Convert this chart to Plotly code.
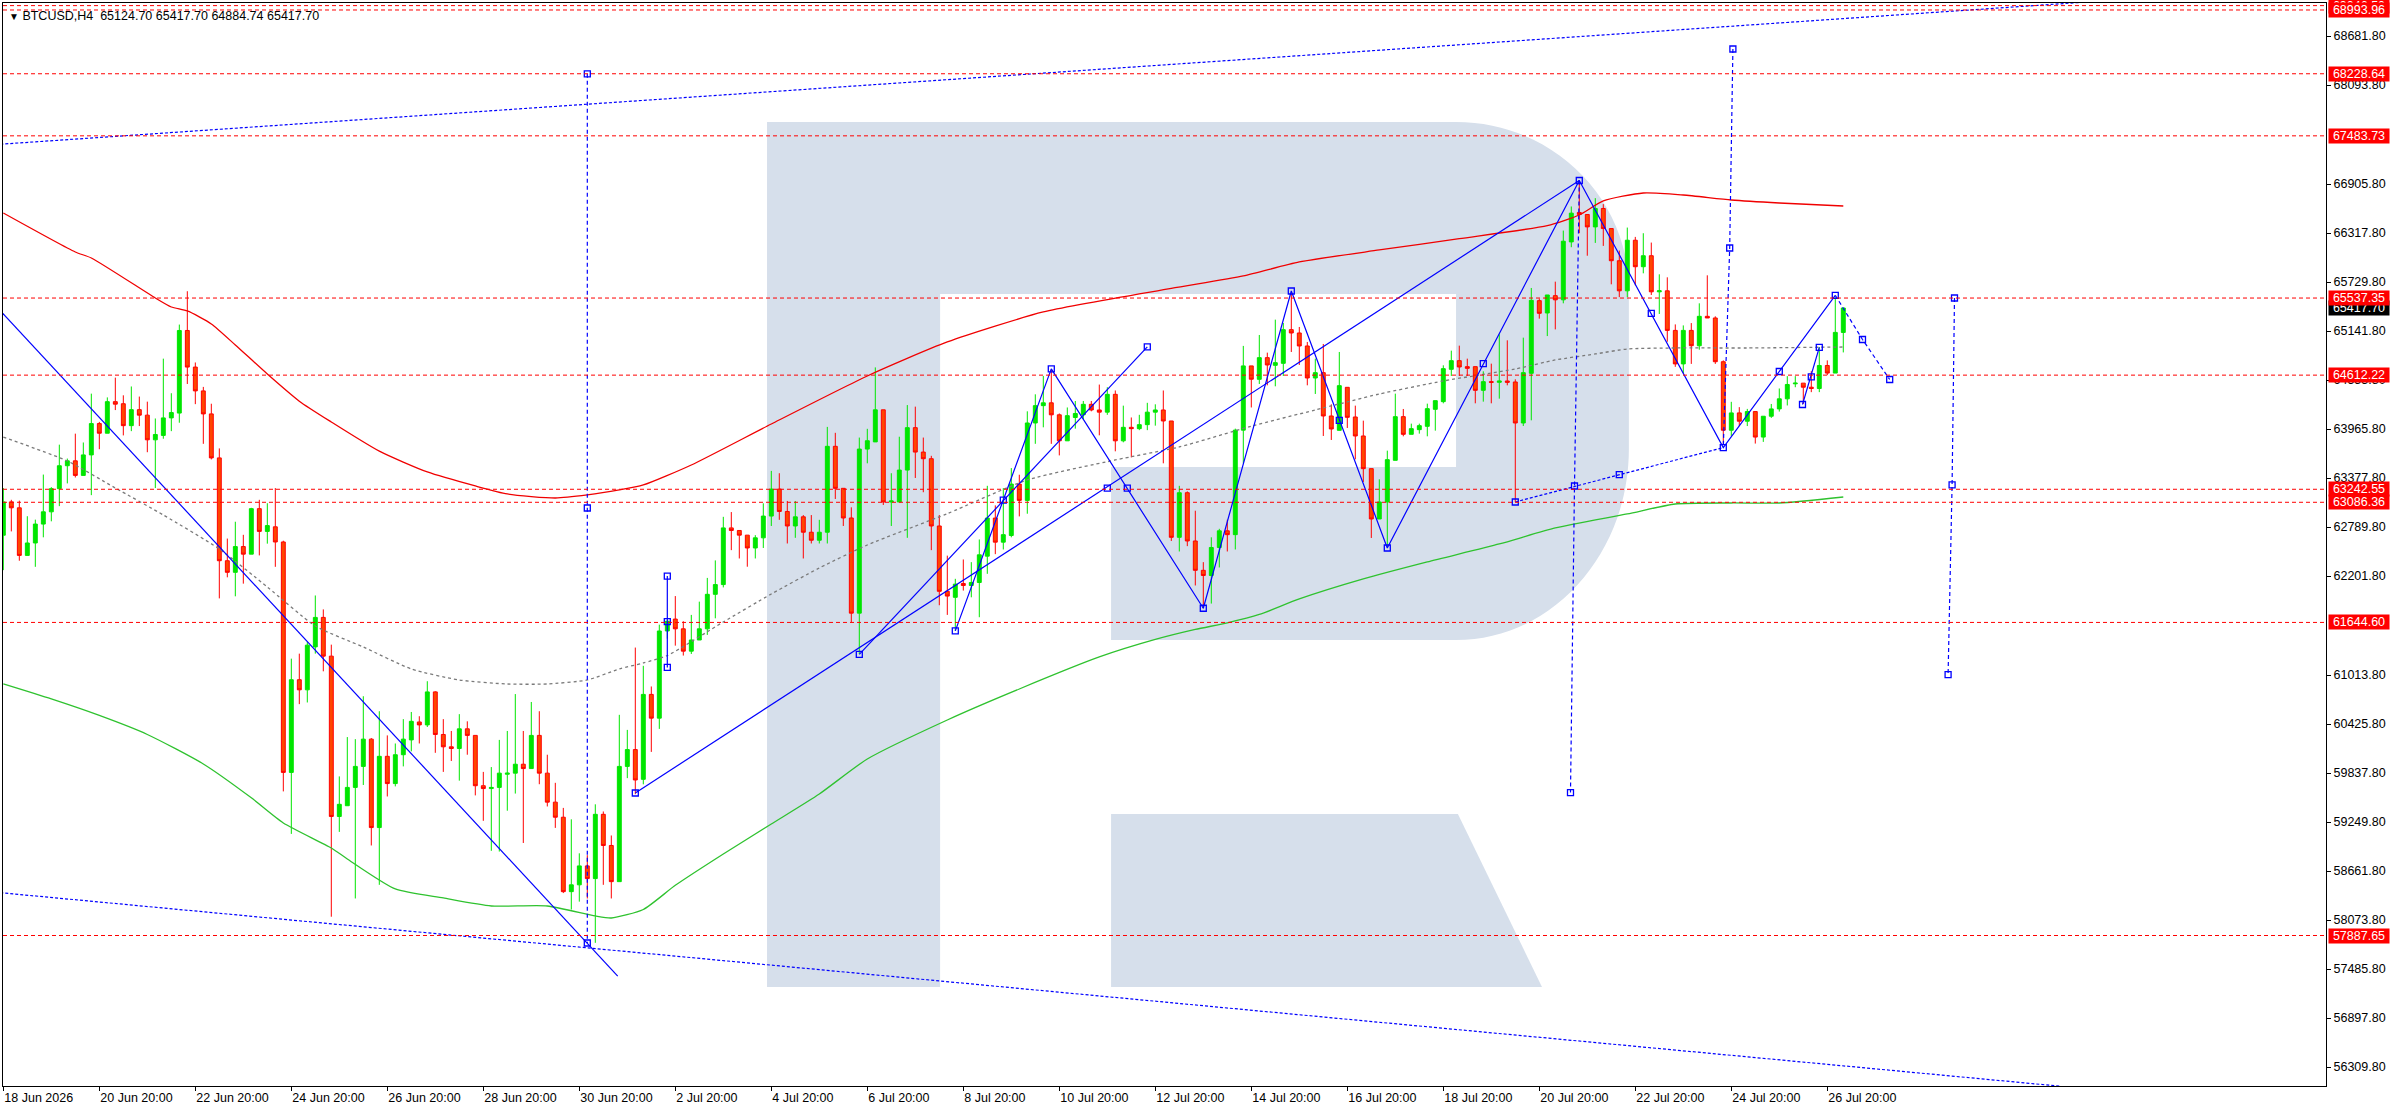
"""BTCUSD H4 chart in MetaTrader style, rebuilt with Plotly"""

import plotly.graph_objects as go

FONT = "Liberation Sans"
BULL = "#00e600"
BEAR_FILL = "#ff4500"
BEAR_LINE = "#ff0000"
OBJ_BLUE = "#0000ff"
LEVEL_RED = "#ff0000"
LOGO_COLOR = "#d6dfeb"

# x axis: one bar = 4 hours, label every 12 bars
X_TICK_BARS = list(range(0, 229, 12))
X_TICK_TEXT = [
    "18 Jun 2026", "20 Jun 20:00", "22 Jun 20:00", "24 Jun 20:00", "26 Jun 20:00",
    "28 Jun 20:00", "30 Jun 20:00", "2 Jul 20:00", "4 Jul 20:00", "6 Jul 20:00",
    "8 Jul 20:00", "10 Jul 20:00", "12 Jul 20:00", "14 Jul 20:00", "16 Jul 20:00",
    "18 Jul 20:00", "20 Jul 20:00", "22 Jul 20:00", "24 Jul 20:00", "26 Jul 20:00",
]

# price scale ticks shown by the terminal
Y_TICKS = [
    56309.80, 56897.80, 57485.80, 58073.80, 58661.80, 59249.80, 59837.80, 60425.80,
    61013.80, 62201.80, 62789.80, 63377.80, 63965.80, 64553.80, 65141.80, 65729.80,
    66317.80, 66905.80, 68093.80, 68681.80,
]

# H4 candles
OPEN = [
    62691, 63091, 63020, 62449, 62598, 62825, 62972, 63250, 63525, 63584,
    63409, 63655, 64031, 63915, 64294, 64269, 64006, 64198, 64132, 63836,
    63889, 64099, 64157, 65148, 64709, 64423, 64147, 63619, 62385, 62246,
    62555, 62464, 63010, 62737, 62792, 62610, 59845, 60957, 60836, 61351,
    61705, 61240, 59316, 59445, 59665, 59917, 60244, 59183, 60038, 59711,
    60057, 60235, 60450, 60415, 60811, 60300, 60152, 60132, 60368, 60289,
    59685, 59651, 59665, 59823, 59836, 59943, 59891, 60289, 59836, 59488,
    59307, 58414, 58496, 58723, 58571, 59342, 58968, 58534, 59917, 60119,
    59762, 60781, 60496, 61542, 61685, 61568, 61300, 61434, 61568, 61982,
    62099, 62779, 62748, 62692, 62538, 62660, 62921, 63245, 62976, 62802,
    62912, 62727, 62631, 62727, 63758, 63254, 62898, 61756, 63725, 63811,
    64196, 63090, 63090, 63473, 63982, 63689, 63609, 62802, 62018, 61946,
    62112, 62088, 62124, 62440, 62897, 62608, 62688, 63305, 63109, 64038,
    64246, 64280, 64136, 63824, 64104, 64136, 64262, 64194, 64168, 64382,
    63824, 63986, 63970, 64018, 64168, 64194, 64062, 62666, 63201, 62622,
    62270, 62208, 62544, 62744, 62698, 63952, 64723, 64562, 64822, 64730,
    64754, 65158, 65118, 64962, 64578, 64642, 64122, 63950, 64466, 64110,
    63882, 63490, 62886, 63090, 63590, 64114, 63902, 63958, 63998, 64202,
    64294, 64682, 64786, 64714, 64714, 64430, 64534, 64526, 64542, 64530,
    64038, 64634, 65506, 65358, 65566, 65516, 66211, 66564, 66540, 66391,
    66612, 66371, 65985, 65624, 66231, 65913, 66045, 65612, 65624, 65149,
    64747, 65149, 64965, 65318, 65298, 64773, 63951, 64159, 64059, 64175,
    63869, 64119, 64207, 64328, 64508, 64516, 64467, 64452, 64728, 64637,
    65124.70,
]
HIGH = [
    63257, 63116, 63106, 62919, 62878, 63419, 63268, 63778, 63611, 63910,
    63804, 64390, 64051, 64345, 64582, 64370, 64476, 64355, 64294, 64092,
    64810, 64395, 65219, 65619, 64764, 64471, 64269, 63733, 62651, 62853,
    62696, 63020, 63116, 63075, 63257, 62625, 61210, 61270, 61412, 61968,
    61801, 61378, 59797, 60269, 60244, 60759, 60257, 60579, 60289, 60192,
    60484, 60570, 60519, 60939, 60819, 60484, 60342, 60544, 60458, 60289,
    59851, 59909, 60235, 60342, 60785, 60342, 60690, 60579, 60057, 59720,
    59419, 59282, 58874, 58852, 59462, 59376, 59088, 60536, 60355, 61343,
    61124, 60876, 61618, 61659, 61961, 61659, 61735, 61894, 62179, 62389,
    62912, 62969, 62748, 62692, 62692, 63074, 63463, 63435, 63102, 63102,
    62933, 62933, 62876, 63991, 63920, 63254, 63026, 63863, 63968, 64705,
    64196, 63435, 63873, 64253, 64234, 63863, 63644, 62933, 62446, 62168,
    62400, 62368, 62640, 63284, 63049, 63257, 63497, 63417, 64178, 64382,
    64603, 64679, 64152, 64224, 64302, 64302, 64302, 64499, 64467, 64428,
    64246, 64104, 64136, 64280, 64262, 64428, 64062, 63284, 63217, 62985,
    62368, 62666, 62768, 62877, 63970, 64963, 64723, 65094, 64882, 65278,
    65238, 65590, 65190, 65010, 64810, 64986, 64262, 64890, 64466, 64246,
    64066, 63490, 63362, 63706, 64390, 64206, 64030, 64030, 64270, 64306,
    64730, 64906, 64966, 64810, 64714, 64658, 64750, 65102, 65030, 64562,
    65062, 65658, 65530, 65574, 65734, 66347, 66636, 66948, 66540, 66736,
    66664, 66371, 66107, 66383, 66271, 66315, 66203, 65822, 65786, 65221,
    65209, 65237, 65474, 65810, 65318, 64789, 64292, 64228, 64207, 64175,
    64119, 64266, 64452, 64600, 64600, 64516, 64660, 64949, 64789, 65548,
    65417.70,
]
LOW = [
    62272, 62737, 62385, 62449, 62312, 62666, 62858, 63040, 63313, 63384,
    63409, 63172, 63723, 63915, 64193, 63889, 63940, 64001, 63687, 63257,
    63849, 63940, 64041, 64506, 64264, 63788, 63601, 61933, 62186, 61958,
    62110, 62464, 62449, 62590, 62312, 59617, 59107, 60664, 60684, 61270,
    61058, 58113, 59131, 59445, 58332, 59694, 58968, 58496, 59556, 59677,
    59917, 60098, 60192, 60390, 60080, 59851, 59982, 59746, 60057, 59569,
    59264, 58904, 58895, 59385, 59591, 58998, 59891, 59703, 59436, 59179,
    58397, 58199, 58294, 58332, 57800, 58496, 58332, 58534, 59776, 59583,
    59702, 60091, 60367, 61450, 61366, 61247, 61266, 61434, 61495, 61694,
    62065, 62512, 62412, 62313, 62412, 62538, 62802, 62876, 62592, 62660,
    62412, 62592, 62592, 62592, 63126, 62802, 61647, 61266, 63554, 63811,
    63054, 62802, 63090, 62660, 63378, 63207, 62512, 61851, 61735, 61543,
    62027, 61946, 61707, 62228, 62464, 62520, 62666, 62917, 62949, 63788,
    63986, 63788, 63649, 63824, 63970, 64082, 64178, 63890, 64136, 63698,
    63806, 63625, 63952, 63952, 64006, 63554, 62622, 62496, 62560, 62088,
    61815, 61871, 62304, 62496, 62520, 63554, 64224, 64506, 64490, 64478,
    64602, 64890, 64734, 64490, 64386, 63882, 63834, 63950, 63978, 63602,
    63330, 62658, 62886, 62550, 63590, 63878, 63902, 63910, 63878, 63946,
    64274, 64602, 64602, 64602, 64274, 64294, 64274, 64330, 64490, 63090,
    64002, 64070, 65290, 65081, 65161, 65474, 66147, 66315, 66045, 66199,
    66163, 65702, 65548, 65548, 65690, 65834, 65574, 65346, 65013, 64712,
    64637, 64747, 64917, 65298, 64747, 63779, 63883, 64001, 64001, 63791,
    63811, 64099, 64175, 64248, 64467, 64266, 64408, 64408, 64612, 64637,
    64884.74,
]
CLOSE = [
    63091, 63020, 62449, 62598, 62825, 62972, 63250, 63525, 63584, 63409,
    63655, 64031, 63915, 64294, 64264, 64006, 64198, 64132, 63836, 63900,
    64099, 64163, 65148, 64709, 64423, 64147, 63619, 62385, 62246, 62555,
    62464, 63010, 62737, 62807, 62610, 59845, 60957, 60836, 61372, 61705,
    61240, 59316, 59462, 59665, 59917, 60244, 59183, 60038, 59711, 60057,
    60244, 60458, 60415, 60811, 60300, 60152, 60132, 60368, 60289, 59685,
    59651, 59665, 59836, 59836, 59943, 59891, 60289, 59836, 59488, 59307,
    58414, 58496, 58723, 58571, 59342, 58968, 58534, 59917, 60119, 59754,
    60781, 60496, 61542, 61659, 61568, 61300, 61434, 61568, 61982, 62099,
    62779, 62748, 62692, 62538, 62660, 62921, 63245, 62976, 62802, 62912,
    62727, 62631, 62727, 63758, 63254, 62898, 61756, 63725, 63825, 64196,
    63090, 63102, 63473, 63982, 63689, 63609, 62802, 62018, 61961, 62104,
    62088, 62124, 62456, 62897, 62608, 62698, 63305, 63109, 64038, 64246,
    64280, 64136, 63824, 64126, 64152, 64262, 64194, 64168, 64382, 63824,
    63986, 63970, 64018, 64168, 64194, 64062, 62666, 63201, 62622, 62270,
    62208, 62544, 62744, 62698, 63952, 64723, 64563, 64822, 64734, 64762,
    65158, 65118, 64962, 64578, 64642, 64122, 63966, 64486, 64106, 63882,
    63490, 62886, 63090, 63598, 64114, 63902, 63970, 64006, 64210, 64306,
    64690, 64786, 64710, 64694, 64430, 64534, 64526, 64542, 64526, 64038,
    64642, 65510, 65354, 65574, 65516, 66219, 66556, 66540, 66391, 66612,
    66371, 65985, 65624, 66231, 65913, 66045, 65612, 65624, 65149, 64747,
    65149, 64965, 65318, 65298, 64773, 63951, 64159, 64059, 64175, 63869,
    64119, 64207, 64328, 64500, 64516, 64467, 64452, 64728, 64637, 65125,
    65417.70,
]

# moving averages, read at sample bars
RED_MA_BARS = [0, 9, 11, 19, 21, 23, 26, 29, 33, 37, 41, 47, 53, 59, 63, 69, 73, 77, 80,
               86, 96, 108, 118, 130, 146, 155, 162, 172, 182, 193, 197, 200, 205, 210,
               216, 222, 230]
RED_MA = [66558, 66090, 66018, 65538, 65430, 65382, 65226, 64974, 64626, 64300, 64050,
          63700, 63450, 63282, 63186, 63138, 63174, 63234, 63294, 63534, 64026, 64602,
          65010, 65370, 65652, 65802, 65970, 66114, 66250, 66407, 66534, 66702, 66798,
          66774, 66714, 66678, 66642]

GREEN_MA_BARS = [0, 6, 12, 18, 25, 31, 35, 41, 43, 49, 55, 61, 68, 74, 76, 80, 84, 90, 96,
                 102, 108, 118, 127, 137, 144, 149, 153, 157, 162, 170, 178, 187, 194, 203,
                 209, 216, 222, 230]
GREEN_MA = [60906, 60726, 60528, 60300, 59946, 59540, 59238, 58938, 58806, 58446, 58338,
            58242, 58242, 58122, 58098, 58200, 58490, 58866, 59226, 59586, 60006, 60474,
            60846, 61230, 61440, 61560, 61640, 61740, 61926, 62166, 62370, 62586, 62778,
            62946, 63066, 63078, 63078, 63150]

GRAY_MA_BARS = [0, 8, 14, 20, 27, 33, 39, 45, 51, 57, 63, 68, 73, 77, 80, 83, 90, 96, 102,
                108, 118, 128, 139, 147, 156, 164, 172, 180, 189, 194, 199, 203, 209, 218,
                230]
GRAY_MA = [63868, 63582, 63258, 62934, 62526, 62070, 61602, 61350, 61086, 60954, 60906,
           60906, 60954, 61086, 61158, 61248, 61650, 61986, 62298, 62574, 62950, 63354,
           63594, 63750, 64000, 64194, 64386, 64542, 64686, 64794, 64866, 64926, 64938,
           64938, 64950]

# horizontal price levels (red dashed) and current price
LEVELS = [69046.50, 68993.96, 68228.64, 67483.73, 65537.35, 64612.22, 63242.55,
          63086.36, 61644.60, 57887.65]
LAST_PRICE = 65417.70

# chart objects: (bar, price) anchor points
WAVE = [(119, 61543), (131, 64687), (150, 61815), (161, 65622), (173, 62538),
        (197, 66948), (215, 63743), (229, 65570)]
SOLID_LINES = [
    [(-1, 65450), (76.8, 57400)],
    [(79, 59598), (197, 66948)],
    [(107, 61261), (143, 64951)],
    [(83, 62201), (83, 61105)],
    [(224.9, 64260), (227, 64945)],
]
CHANNEL_LINES = [
    [(-1, 67379), (262, 69100)],
    [(-1, 58407), (257, 56080)],
    [(189, 63090), (215, 63743)],
]
DASHED_LINES = [
    [(73, 68228), (73, 57798)],
    [(197, 66948), (196.4, 63282), (195.9, 59603)],
    [(216.2, 68526), (215.8, 66138), (215, 63743)],
    [(243.9, 65538), (243.6, 63296), (243.1, 61019)],
    [(229, 65570), (232.4, 65040), (235.8, 64560)],
]
HANDLES = [
    (73, 68228), (73, 63018), (73, 57798), (79, 59598), (138, 63257), (197, 66948),
    (107, 61261), (125, 63113), (143, 64951), (83, 62201), (83, 61655), (83, 61105),
    (119, 61543), (131, 64687), (140.5, 63257), (150, 61815), (161, 65622),
    (167, 64070), (173, 62538), (185, 64750), (206, 65354), (215, 63743),
    (222, 64656), (229, 65570), (232.4, 65040), (235.8, 64560), (224.9, 64260),
    (226, 64592), (227, 64945), (189, 63090), (202, 63418), (196.4, 63282),
    (195.9, 59603), (216.2, 68526), (215.8, 66138), (243.9, 65538), (243.6, 63296),
    (243.1, 61019),
]


def _segments(lines):
    """線分リストを None 区切りの x, y に変換する"""
    xs, ys = [], []
    for pts in lines:
        for bx, py in pts:
            xs.append(bx)
            ys.append(py)
        xs.append(None)
        ys.append(None)
    return xs, ys


fig = go.Figure()

fig.add_trace(go.Candlestick(
    x=list(range(len(OPEN))), open=OPEN, high=HIGH, low=LOW, close=CLOSE,
    increasing=dict(line=dict(color=BULL, width=1), fillcolor=BULL),
    decreasing=dict(line=dict(color=BEAR_LINE, width=1), fillcolor=BEAR_FILL),
    whiskerwidth=0, hoverinfo="skip", showlegend=False,
))

# moving averages
for bars, vals, color, dash in [
    (GRAY_MA_BARS, GRAY_MA, "#7a7a7a", "3px,3px"),
    (GREEN_MA_BARS, GREEN_MA, "#2fc22f", "solid"),
    (RED_MA_BARS, RED_MA, "#f00000", "solid"),
]:
    fig.add_trace(go.Scatter(
        x=bars, y=vals, mode="lines", hoverinfo="skip", showlegend=False,
        line=dict(color=color, width=1.3, dash=dash, shape="spline", smoothing=0.6),
    ))

# blue objects
for lines, dash in [
    (SOLID_LINES + [WAVE], "solid"),
    (CHANNEL_LINES, "3px,2px"),
    (DASHED_LINES, "4px,3px"),
]:
    xs, ys = _segments(lines)
    fig.add_trace(go.Scatter(
        x=xs, y=ys, mode="lines", hoverinfo="skip", showlegend=False,
        line=dict(color=OBJ_BLUE, width=1.2, dash=dash),
    ))

fig.add_trace(go.Scatter(
    x=[h[0] for h in HANDLES], y=[h[1] for h in HANDLES], mode="markers",
    hoverinfo="skip", showlegend=False,
    marker=dict(symbol="square-open", size=6, color=OBJ_BLUE, line=dict(width=1.3)),
))

# ロゴ（背景の R）
logo_r = ("M 0.3289,0.0914 L 0.3289,0.8901 L 0.6255,0.8901 "
          "C 0.6666,0.8901 0.6999,0.8207 0.6999,0.7350 L 0.6999,0.5882 "
          "C 0.6999,0.4908 0.6666,0.4118 0.6255,0.4118 L 0.4770,0.4118 "
          "L 0.4770,0.5716 L 0.6255,0.5716 L 0.6255,0.7313 L 0.4034,0.7313 "
          "L 0.4034,0.0914 Z")
logo_leg = "M 0.4770,0.2512 L 0.6263,0.2512 L 0.6625,0.0914 L 0.4770,0.0914 Z"
shapes = [
    dict(type="path", path=p, xref="paper", yref="paper", fillcolor=LOGO_COLOR,
         line=dict(width=0), layer="below")
    for p in (logo_r, logo_leg)
]
shapes += [
    dict(type="line", xref="paper", x0=0, x1=1, yref="y", y0=lv, y1=lv,
         line=dict(color=LEVEL_RED, width=1, dash="4px,3px"), layer="above")
    for lv in LEVELS
]

label_font = dict(family=FONT, size=12.5, color="white")
annotations = [dict(
    x=1, xref="paper", xanchor="left", xshift=2, y=LAST_PRICE, yref="y",
    yanchor="middle", text=f"{LAST_PRICE:.2f}", showarrow=False, bgcolor="#000000",
    font=label_font, width=60, height=14, borderpad=0,
)]
for lv in LEVELS:
    annotations.append(dict(
        x=1, xref="paper", xanchor="left", xshift=2, y=lv, yref="y", yanchor="middle",
        text=f"{lv:.2f}", showarrow=False, bgcolor=LEVEL_RED, font=label_font,
        width=60, height=14, borderpad=0,
    ))
annotations.append(dict(
    x=0, xref="paper", xanchor="left", xshift=4, y=1, yref="paper", yanchor="top",
    yshift=-4, showarrow=False, align="left",
    text=(f"<span style='font-size:10px'>▼</span> BTCUSD,H4  {OPEN[-1]:.2f} "
          f"{HIGH[-1]:.2f} {LOW[-1]:.2f} {CLOSE[-1]:.2f}"),
    font=dict(family=FONT, size=12.5, color="black"),
))

fig.update_layout(
    width=2396, height=1110,
    margin=dict(l=3, r=70, t=3, b=24),
    paper_bgcolor="white", plot_bgcolor="white",
    showlegend=False, hovermode=False,
    shapes=shapes, annotations=annotations,
    font=dict(family=FONT, size=12.5, color="black"),
    xaxis=dict(
        type="linear", range=[-0.04, 290.34], rangeslider=dict(visible=False),
        tickmode="array", tickvals=X_TICK_BARS, ticktext=X_TICK_TEXT,
        ticks="outside", ticklen=4, tickcolor="black", ticklabelposition="outside right",
        showgrid=False, zeroline=False, showline=True, mirror=True,
        linecolor="black", linewidth=1, fixedrange=True,
    ),
    yaxis=dict(
        side="right", range=[56081.8, 69077.8],
        tickmode="array", tickvals=Y_TICKS, ticktext=[f"{v:.2f}" for v in Y_TICKS],
        ticks="outside", ticklen=4, tickcolor="black",
        showgrid=False, zeroline=False, showline=True, mirror=True,
        linecolor="black", linewidth=1, fixedrange=True,
    ),
)

fig.write_html("out.html", config={"displayModeBar": False},
               post_script="document.body.style.margin='0';")
